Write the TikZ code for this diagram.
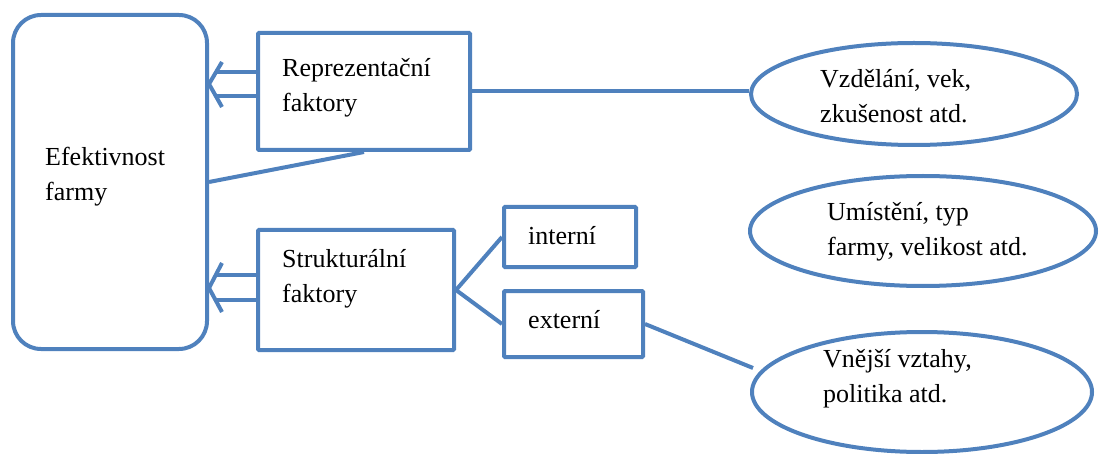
\documentclass[tikz,border=0pt]{standalone}
\usepackage{fontspec}
\setmainfont{Liberation Serif}
\usetikzlibrary{shapes.geometric}
\definecolor{wblue}{HTML}{4F81BD}
\begin{document}
\begin{tikzpicture}[x=1pt,y=-1pt,
  box/.style={draw=wblue, line width=4pt, rectangle, inner sep=0pt, rounded corners=1pt},
  rbox/.style={draw=wblue, line width=4pt, rectangle, inner sep=0pt, rounded corners=28pt},
  oval/.style={draw=wblue, line width=4pt, ellipse, inner sep=0pt},
  txt/.style={align=left, anchor=base west, inner sep=0pt, font=\fontsize{26}{35}\selectfont},
  conn/.style={draw=wblue, line width=4pt, line join=round}]
\useasboundingbox (0,0) rectangle (1099,454);
% shapes
\node[rbox, minimum width=194pt, minimum height=334pt] (main) at (110,182) {};
\node[box, minimum width=212pt, minimum height=117pt] (rep) at (364,91.5) {};
\node[box, minimum width=196pt, minimum height=120pt] (str) at (356,290) {};
\node[box, minimum width=132pt, minimum height=60pt] (int) at (570,237) {};
\node[box, minimum width=139pt, minimum height=66pt] (ext) at (573.5,324) {};
\node[oval, minimum width=326pt, minimum height=102pt] (e1) at (914,94) {};
\node[oval, minimum width=346pt, minimum height=110pt] (e2) at (923,231) {};
\node[oval, minimum width=340pt, minimum height=120pt] (e3) at (922,392) {};
% texts (anchor = baseline of the last line)
\node[txt] (t0) at (45,201) {Efektivnost\\farmy};
\node[txt] (trep) at (282,112) {Reprezentační\\faktory};
\node[txt] (tstr) at (282,302) {Strukturální\\faktory};
\node[txt] (tint) at (528,244) {interní};
\node[txt] (text) at (528,328) {externí};
\node[txt] (te1) at (820,123) {Vzdělání, vek,\\zkušenost atd.};
\node[txt] (te2) at (827,255) {Umístění, typ\\farmy, velikost atd.};
\node[txt] (te3) at (823,402) {Vnější vztahy,\\politika atd.};
% double arrows
\coordinate (a1) at (217,72);
\coordinate (a2) at (217,96);
\coordinate (ah1) at (222,62);
\coordinate (at1) at (209,84);
\coordinate (al1) at (222,107);
\draw[conn] (rep.west |- a1) -- (a1);
\draw[conn] (rep.west |- a2) -- (a2);
\draw[conn] (ah1) -- (at1) -- (al1);
\coordinate (b1) at (217,275);
\coordinate (b2) at (217,300);
\coordinate (bh1) at (222,263);
\coordinate (bt1) at (209,288);
\coordinate (bl1) at (222,312);
\draw[conn] (str.west |- b1) -- (b1);
\draw[conn] (str.west |- b2) -- (b2);
\draw[conn] (bh1) -- (bt1) -- (bl1);
% connectors
\draw[conn] (main.east) -- (rep.south);
\draw[conn] (rep.east) -- (rep.east -| e1.west);
\draw[conn] (str.east) -- (int.west);
\draw[conn] (str.east) -- (ext.west);
\coordinate (e3in) at (753,368);
\draw[conn] (ext.east) -- (e3in);
\end{tikzpicture}
\end{document}
